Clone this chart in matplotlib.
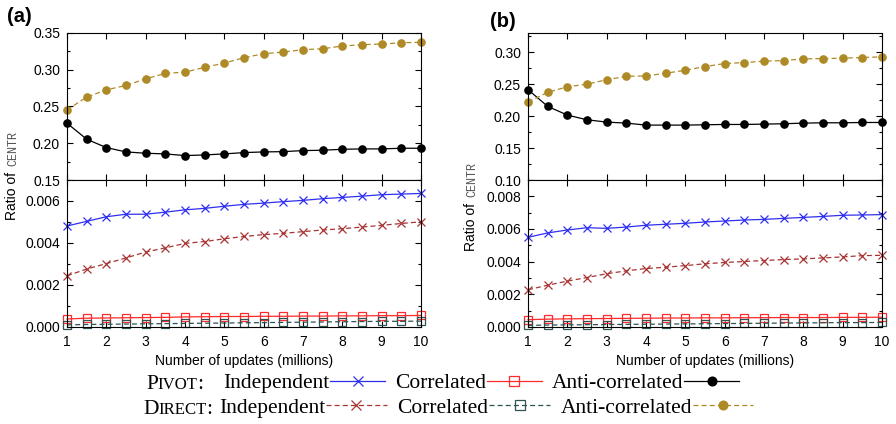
import matplotlib
matplotlib.use('Agg')
import matplotlib.pyplot as plt
from matplotlib.ticker import MultipleLocator, FormatStrFormatter
from matplotlib.text import Annotation

plt.rcParams['font.family'] = ['Liberation Sans', 'DejaVu Sans']

# x: number of updates (millions)
updates = [1, 1.5, 2, 2.5, 3, 3.5, 4, 4.5, 5, 5.5, 6, 6.5, 7, 7.5, 8, 8.5, 9, 9.5, 10]
xticks = [1, 2, 3, 4, 5, 6, 7, 8, 9, 10]

# panel (a)
a_pivot_ind = [0.00481, 0.00503, 0.00525, 0.00537, 0.00537, 0.00547, 0.00558, 0.00565, 0.00575, 0.00584,
               0.00590, 0.00597, 0.00603, 0.00611, 0.00617, 0.00623, 0.00630, 0.00633, 0.00636]
a_pivot_cor = [0.00038, 0.00042, 0.00043, 0.00044, 0.00045, 0.00046, 0.00048, 0.00049, 0.00050, 0.00050,
               0.00051, 0.00051, 0.00052, 0.00052, 0.00053, 0.00053, 0.00054, 0.00054, 0.00055]
a_pivot_anti = [0.2273, 0.2055, 0.1941, 0.1882, 0.1864, 0.1855, 0.1832, 0.1841, 0.1855, 0.1873,
                0.1882, 0.1886, 0.1900, 0.1905, 0.1918, 0.1923, 0.1923, 0.1932, 0.1932]
a_direct_ind = [0.00244, 0.00276, 0.00302, 0.00329, 0.00357, 0.00377, 0.00398, 0.00407, 0.00420, 0.00431,
                0.00440, 0.00446, 0.00454, 0.00462, 0.00468, 0.00476, 0.00484, 0.00493, 0.00501]
a_direct_cor = [0.00010, 0.00012, 0.00013, 0.00014, 0.00015, 0.00016, 0.00017, 0.00018, 0.00019, 0.00020,
                0.00021, 0.00022, 0.00023, 0.00024, 0.00025, 0.00026, 0.00027, 0.00027, 0.00028]
a_direct_anti = [0.2455, 0.2627, 0.2727, 0.2786, 0.2877, 0.2950, 0.2968, 0.3032, 0.3091, 0.3164,
                 0.3218, 0.3241, 0.3273, 0.3286, 0.3323, 0.3341, 0.3350, 0.3368, 0.3373]

# panel (b)
b_pivot_ind = [0.00549, 0.00576, 0.00594, 0.00608, 0.00604, 0.00612, 0.00623, 0.00629, 0.00635, 0.00643,
               0.00649, 0.00655, 0.00659, 0.00665, 0.00671, 0.00677, 0.00684, 0.00686, 0.00688]
b_pivot_cor = [0.00045, 0.00048, 0.00050, 0.00051, 0.00052, 0.00053, 0.00054, 0.00055, 0.00055, 0.00056,
               0.00056, 0.00057, 0.00057, 0.00058, 0.00058, 0.00058, 0.00059, 0.00059, 0.00060]
b_pivot_anti = [0.2414, 0.2152, 0.2016, 0.1942, 0.1906, 0.1890, 0.1859, 0.1859, 0.1859, 0.1864,
                0.1869, 0.1869, 0.1874, 0.1880, 0.1890, 0.1895, 0.1895, 0.1900, 0.1900]
b_direct_ind = [0.00228, 0.00256, 0.00281, 0.00303, 0.00326, 0.00344, 0.00358, 0.00366, 0.00376, 0.00387,
                0.00395, 0.00401, 0.00407, 0.00413, 0.00417, 0.00423, 0.00429, 0.00437, 0.00439]
b_direct_cor = [0.00010, 0.00012, 0.00013, 0.00014, 0.00015, 0.00016, 0.00017, 0.00018, 0.00019, 0.00020,
                0.00021, 0.00022, 0.00023, 0.00024, 0.00025, 0.00026, 0.00027, 0.00027, 0.00028]
b_direct_anti = [0.2220, 0.2372, 0.2458, 0.2500, 0.2568, 0.2623, 0.2628, 0.2670, 0.2717, 0.2775,
                 0.2822, 0.2838, 0.2859, 0.2869, 0.2895, 0.2900, 0.2906, 0.2916, 0.2927]

legend_labels = ['Independent', 'Correlated', 'Anti-correlated']

C_BLUE = '#2f2ff0'
C_RED = '#ff2a2a'
C_BROWN = '#a83434'
C_SLATE = '#2f5353'
C_GOLD = '#ae8a26'
DASH = (4, 2.5)

W, H = 896, 424
fig = plt.figure(figsize=(W / 100, H / 100), dpi=100)


def style_axis(ax, major, minor, fmt):
    ax.set_xlim(1, 10)
    ax.set_xticks(xticks)
    ax.yaxis.set_major_locator(MultipleLocator(major))
    ax.yaxis.set_minor_locator(MultipleLocator(minor))
    ax.yaxis.set_major_formatter(FormatStrFormatter(fmt))
    ax.tick_params(which='both', direction='in', top=True, right=True, width=0.8,
                   labelsize=10, colors='black')
    ax.tick_params(which='major', length=4.5)
    ax.tick_params(which='minor', length=2.5)
    ax.tick_params(axis='y', pad=5)
    ax.tick_params(axis='x', pad=6)
    for s in ax.spines.values():
        s.set_linewidth(0.8)


def panel(left, hi_lim, hi_major, lo_lim, lo_major,
          p_ind, p_cor, p_anti, d_ind, d_cor, d_anti):
    wd = 354 / W
    hh = 147 / H
    ax_hi = fig.add_axes([left, 1 - 180 / H, wd, hh])
    ax_lo = fig.add_axes([left, 1 - 327 / H, wd, hh])

    hp = dict(lw=0.9, clip_on=False)
    l_pa, = ax_hi.plot(updates, p_anti, color='black', marker='o', ms=5.2, **hp)
    l_da, = ax_hi.plot(updates, d_anti, color=C_GOLD, marker='o', ms=5.2, ls='--', dashes=DASH, **hp)

    l_pc, = ax_lo.plot(updates, p_cor, color=C_RED, marker='s', ms=5.5, mfc='none', mew=0.9, **hp)
    l_dc, = ax_lo.plot(updates, d_cor, color=C_SLATE, marker='s', ms=5.5, mfc='none', mew=0.9,
                       ls='--', dashes=DASH, **hp)
    l_pi, = ax_lo.plot(updates, p_ind, color=C_BLUE, marker='x', ms=6, mew=0.9, **hp)
    l_di, = ax_lo.plot(updates, d_ind, color=C_BROWN, marker='x', ms=6, mew=0.9,
                       ls='--', dashes=DASH, **hp)

    ax_hi.set_ylim(*hi_lim)
    ax_lo.set_ylim(*lo_lim)
    style_axis(ax_hi, hi_major, hi_major / 2, '%.2f')
    style_axis(ax_lo, lo_major, lo_major / 2, '%.3f')
    ax_hi.tick_params(axis='x', labelbottom=False)
    ax_lo.set_xlabel('Number of updates (millions)', fontsize=10, labelpad=3)
    return [l_pi, l_pc, l_pa], [l_di, l_dc, l_da]


pivot_h, direct_h = panel(67 / W, (0.15, 0.35), 0.05, (0, 0.007), 0.002,
                          a_pivot_ind, a_pivot_cor, a_pivot_anti,
                          a_direct_ind, a_direct_cor, a_direct_anti)
panel(528 / W, (0.10, 0.33), 0.05, (0, 0.009), 0.002,
      b_pivot_ind, b_pivot_cor, b_pivot_anti,
      b_direct_ind, b_direct_cor, b_direct_anti)


def ylabel(xb, y0):
    # "Ratio of" in sans, then CENTR in a small typewriter face, both rotated
    t = fig.text(xb / W, 1 - y0 / H, 'Ratio of', rotation=90, rotation_mode='anchor',
                 ha='left', va='baseline', fontsize=10)
    ann = Annotation('CENTR', xy=(xb / W, 1), xycoords=('figure fraction', t),
                     xytext=(0, 6), textcoords='offset pixels',
                     rotation=90, rotation_mode='anchor', ha='left', va='baseline',
                     fontsize=8.5, family='Liberation Mono', color='#555555')
    fig.add_artist(ann)


ylabel(16, 220)
ylabel(475, 251)

fig.text(7 / W, 1 - 22 / H, '(a)', fontsize=14.5, fontweight='bold', va='baseline')
fig.text(490 / W, 1 - 27 / H, '(b)', fontsize=14.5, fontweight='bold', va='baseline')


def small_caps(x, yb, big, small, size):
    t1 = fig.text(x / W, 1 - yb / H, big, fontsize=size, family='Liberation Serif', va='baseline')
    t2 = Annotation(small, xy=(1, 1 - yb / H), xycoords=(t1, 'figure fraction'),
                    fontsize=size * 0.78, family='Liberation Serif', va='baseline', ha='left')
    fig.add_artist(t2)
    t3 = Annotation(':', xy=(1, 1 - yb / H), xycoords=(t2, 'figure fraction'),
                    xytext=(-1, 0), textcoords='offset pixels',
                    fontsize=size, family='Liberation Serif', va='baseline', ha='left')
    fig.add_artist(t3)


LEG_SIZE = 15.5
small_caps(146, 389, 'P', 'IVOT', LEG_SIZE)
small_caps(143, 413.5, 'D', 'IRECT', LEG_SIZE)

leg_kw = dict(ncol=3, markerfirst=False, frameon=False, loc='center left',
              prop={'family': 'Liberation Serif', 'size': LEG_SIZE},
              handletextpad=0.05, borderpad=0, borderaxespad=0, markerscale=1.2)
fig.legend(pivot_h, legend_labels, bbox_to_anchor=(223 / W, 1 - 383 / H),
           handlelength=2.55, columnspacing=0.45, **leg_kw)
fig.legend(direct_h, legend_labels, bbox_to_anchor=(219 / W, 1 - 407.5 / H),
           handlelength=2.8, columnspacing=0.5, **leg_kw)

fig.savefig('out.png', dpi=100)
